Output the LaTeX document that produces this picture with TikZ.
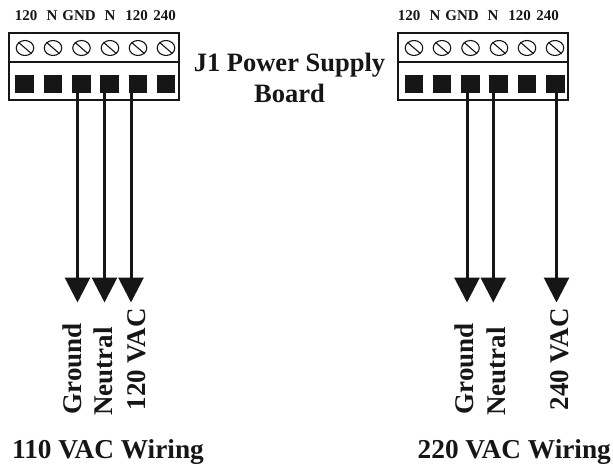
\documentclass[tikz,border=0pt]{standalone}
\usepackage{fontspec}
\setmainfont{Liberation Serif}
\usetikzlibrary{arrows.meta,shapes.geometric}
\definecolor{ink}{HTML}{161616}
\tikzset{
  x=1pt,y=-1pt,
  board/.style={draw=ink,line width=1.4pt,fill=white,minimum width=170pt,minimum height=67pt,inner sep=0pt},
  screw/.style={draw=ink,line width=1.1pt,ellipse,minimum width=17.5pt,minimum height=15pt,inner sep=0pt},
  terminal/.style={fill=ink,minimum width=18.5pt,minimum height=18.5pt,inner sep=0pt},
  wire/.style={draw=ink,line width=3pt,-{Triangle[length=25pt,width=25pt,fill=ink]},shorten >=0pt},
  pin/.style={font=\bfseries\fontsize{15}{17}\selectfont,inner sep=0pt,text=ink},
  wirelabel/.style={font=\bfseries\fontsize{27}{30}\selectfont,inner sep=0pt,rotate=90,anchor=base east,text=ink},
  title/.style={font=\bfseries\fontsize{26.5}{31}\selectfont,inner sep=0pt,text=ink,align=center},
  caption/.style={font=\bfseries\fontsize{27.3}{31}\selectfont,inner sep=0pt,text=ink,anchor=base west},
}
\begin{document}
\begin{tikzpicture}
\useasboundingbox (0,0) rectangle (613,466);
\node[board] (bl) at (94,66.5) {};
\draw[draw=ink,line width=1.2pt] (bl.west |- 0,62) coordinate (dl1) -- (bl.east |- 0,62) coordinate (dl2);
\node[board] (br) at (483,66.5) {};
\draw[draw=ink,line width=1.2pt] (br.west |- 0,62) coordinate (dr1) -- (br.east |- 0,62) coordinate (dr2);
\foreach \n/\x/\tx in {1/25/24.5,2/53/53,3/81.5/81.5,4/110/109.5,5/138/138,6/166/166}{
  \node[screw] (sl\n) at (\x,48) {};
  \draw[draw=ink,line width=1.1pt] (sl\n.north west) -- (sl\n.south east);
  \node[terminal] (tl\n) at (\tx,84) {};
}
\node[pin] (pl1) at (26,16) {120};
\node[pin] (pl2) at (52,16) {N};
\node[pin] (pl3) at (79,16) {GND};
\node[pin] (pl4) at (110,16) {N};
\node[pin] (pl5) at (136.5,16) {120};
\node[pin] (pl6) at (164.5,16) {240};
\foreach \n/\x/\tx in {1/414/414,2/442/442,3/470.5/470.5,4/499/498.5,5/527/527,6/555/555.5}{
  \node[screw] (sr\n) at (\x,48) {};
  \draw[draw=ink,line width=1.1pt] (sr\n.north west) -- (sr\n.south east);
  \node[terminal] (tr\n) at (\tx,84) {};
}
\node[pin] (pr1) at (409,16) {120};
\node[pin] (pr2) at (435,16) {N};
\node[pin] (pr3) at (462,16) {GND};
\node[pin] (pr4) at (493,16) {N};
\node[pin] (pr5) at (519.5,16) {120};
\node[pin] (pr6) at (547.5,16) {240};
\coordinate (el3) at (77.5,302.5);
\coordinate (el4) at (104.5,302.5);
\coordinate (el5) at (131,302.5);
\coordinate (er3) at (467,302.5);
\coordinate (er4) at (493.3,302.5);
\coordinate (er6) at (556.5,302.5);
\foreach \n in {l3,l4,l5,r3,r4,r6}{ \draw[wire] (t\n.center -| e\n) -- (e\n); }
\node[wirelabel] (wl1) at (81.5,323) {Ground};
\node[wirelabel] (wl2) at (112,327) {Neutral};
\node[wirelabel] (wl3) at (145,308) {120 VAC};
\node[wirelabel] (wr1) at (473.5,323) {Ground};
\node[wirelabel] (wr2) at (505,327) {Neutral};
\node[wirelabel] (wr3) at (568,308) {240 VAC};
\node[title] (jt) at (289.5,78) {J1 Power Supply\\Board};
\node[caption] (tl) at (12,458) {110 VAC Wiring};
\node[caption] (tr) at (417.5,458) {220 VAC Wiring};
\end{tikzpicture}
\end{document}
